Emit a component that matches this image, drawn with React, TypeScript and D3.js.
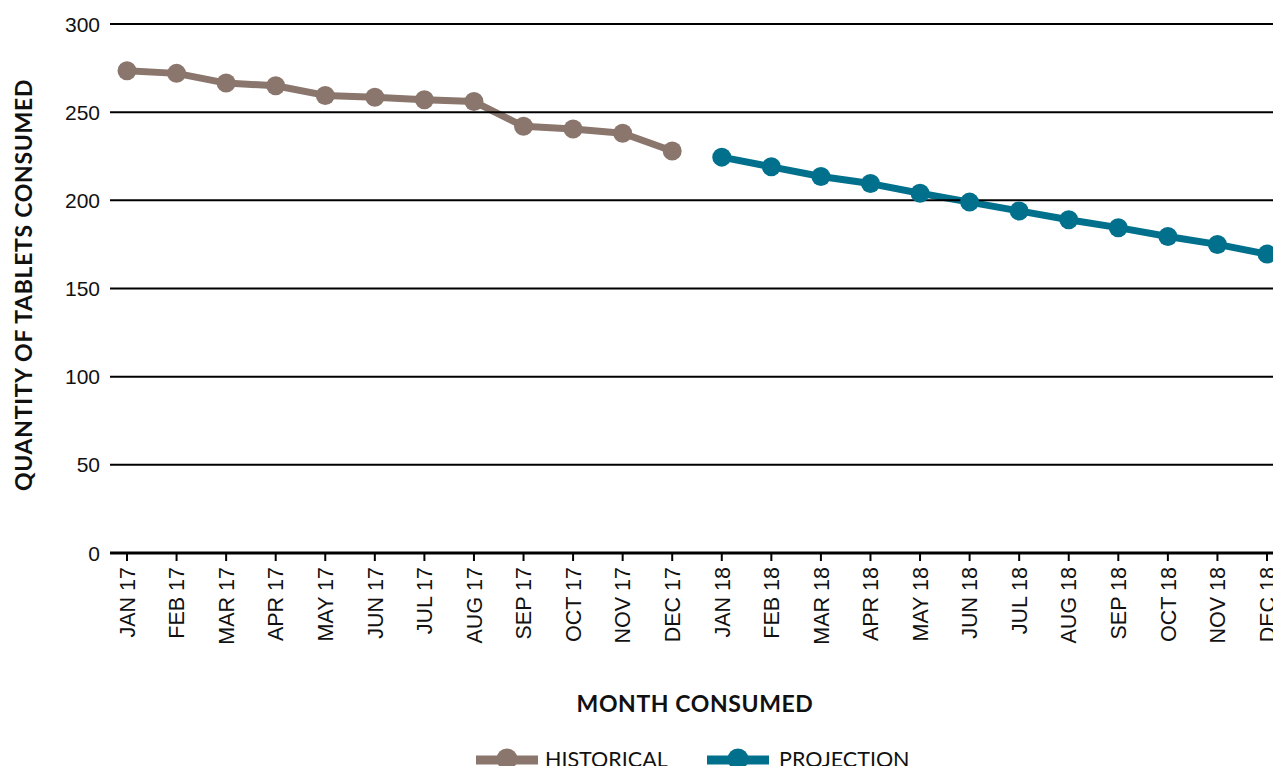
import React from "react";
import * as d3 from "d3";

// Monthly tablet consumption: actuals for 2017, projection for 2018
const historicalMonths = ["JAN 17", "FEB 17", "MAR 17", "APR 17", "MAY 17", "JUN 17", "JUL 17", "AUG 17", "SEP 17", "OCT 17", "NOV 17", "DEC 17"];
const historicalValues = [273.5, 272, 266.5, 265, 259.5, 258.5, 257, 256, 242, 240.5, 238, 228];

const projectionMonths = ["JAN 18", "FEB 18", "MAR 18", "APR 18", "MAY 18", "JUN 18", "JUL 18", "AUG 18", "SEP 18", "OCT 18", "NOV 18", "DEC 18"];
const projectionValues = [224.5, 219, 213.5, 209.5, 204, 199, 194, 189, 184.5, 179.5, 175, 169.5];

const yTicks = [0, 50, 100, 150, 200, 250, 300];

const seriesNames = ["HISTORICAL", "PROJECTION"];
const seriesColors = ["#8a766c", "#00708d"];

const W = 1273;
const H = 766;

export default function App() {
  const allMonths = [...historicalMonths, ...projectionMonths];
  const x = d3.scalePoint<string>().domain(allMonths).range([127, 1267]);
  const y = d3.scaleLinear().domain([0, 300]).range([553, 24]);

  const gridLeft = 110;
  const gridRight = W + 20;

  const line = d3
    .line<{ m: string; v: number }>()
    .x((d) => x(d.m) as number)
    .y((d) => y(d.v));

  const series = [
    historicalMonths.map((m, i) => ({ m, v: historicalValues[i] })),
    projectionMonths.map((m, i) => ({ m, v: projectionValues[i] })),
  ];

  const tickFont = "'Liberation Sans', Arial, Helvetica, sans-serif";
  const titleFont = "Lato, 'Open Sans', sans-serif";

  return (
    <div style={{ position: "absolute", left: 0, top: 0, width: W, height: H, overflow: "hidden", background: "#fff" }}>
      <svg width={W} height={H} style={{ display: "block" }}>
        {/* series lines */}
        {series.map((s, i) => (
          <path
            key={"line" + i}
            d={line(s) || ""}
            fill="none"
            stroke={seriesColors[i]}
            strokeWidth={7}
            strokeLinejoin="round"
          />
        ))}

        {/* horizontal gridlines */}
        {yTicks
          .filter((t) => t > 0)
          .map((t) => (
            <line key={"g" + t} x1={gridLeft} x2={gridRight} y1={y(t)} y2={y(t)} stroke="#000" strokeWidth={2} />
          ))}

        {/* markers */}
        {series.map((s, i) =>
          s.map((d) => (
            <circle key={"c" + i + d.m} cx={x(d.m)} cy={y(d.v)} r={9.5} fill={seriesColors[i]} />
          ))
        )}

        {/* x axis baseline and ticks */}
        <line x1={gridLeft} x2={gridRight} y1={y(0)} y2={y(0)} stroke="#000" strokeWidth={3} />
        {allMonths.map((m) => (
          <line key={"t" + m} x1={x(m)} x2={x(m)} y1={y(0)} y2={y(0) + 8} stroke="#000" strokeWidth={2} />
        ))}

        {/* y tick labels */}
        {yTicks.map((t) => (
          <text
            key={"yl" + t}
            x={100}
            y={y(t)}
            dy="0.36em"
            textAnchor="end"
            fontFamily={tickFont}
            fontSize={21}
            fill="#111"
          >
            {t}
          </text>
        ))}

        {/* x tick labels */}
        {allMonths.map((m) => (
          <text
            key={"xl" + m}
            transform={`translate(${x(m)},${567}) rotate(-90)`}
            textAnchor="end"
            dy="0.36em"
            fontFamily={tickFont}
            fontSize={21.5}
            fill="#111"
          >
            {m}
          </text>
        ))}

        {/* axis titles */}
        <text
          transform={`translate(${32},${285}) rotate(-90)`}
          textAnchor="middle"
          fontFamily={titleFont}
          fontWeight={700}
          fontSize={23}
          letterSpacing={0.7}
          fill="#111"
        >
          QUANTITY OF TABLETS CONSUMED
        </text>
        <text
          x={695}
          y={712}
          textAnchor="middle"
          fontFamily={titleFont}
          fontWeight={700}
          fontSize={23}
          letterSpacing={0.6}
          fill="#111"
        >
          MONTH CONSUMED
        </text>

        {/* legend */}
        {seriesNames.map((name, i) => {
          const lx = [476, 707][i];
          const tx = [545, 779][i];
          return (
            <g key={"lg" + name}>
              <line x1={lx} x2={lx + 62} y1={760} y2={760} stroke={seriesColors[i]} strokeWidth={9} />
              <circle cx={lx + 31} cy={759} r={10.5} fill={seriesColors[i]} />
              <text x={tx} y={767} fontFamily={titleFont} fontSize={21.5} fill="#111">
                {name}
              </text>
            </g>
          );
        })}
      </svg>
    </div>
  );
}
